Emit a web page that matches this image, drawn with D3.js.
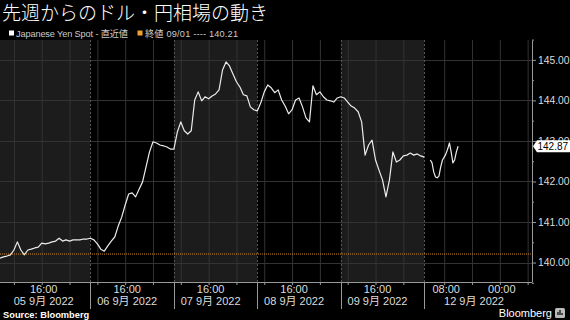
<!DOCTYPE html>
<html>
<head>
<meta charset="utf-8">
<script src="https://cdn.jsdelivr.net/npm/d3@7"></script>
<style>
body { margin: 0; background: #000; }
svg { display: block; }
</style>
</head>
<body>
<div id="chart"></div>
<script>
// USD/JPY spot, Tokyo time, hourly readings per trading session (06:00 - 06:00)
const sep05 = [140.11, 140.14, 140.16, 140.19, 140.31, 140.51, 140.31, 140.19, 140.31, 140.33, 140.36, 140.38, 140.48,
               140.46, 140.48, 140.51, 140.53, 140.60, 140.53, 140.56, 140.53, 140.56, 140.56, 140.56, 140.58, 140.58];
const sep06 = [140.60, 140.56, 140.46, 140.33, 140.28, 140.41, 140.53, 140.63, 140.90, 141.12, 141.42, 141.69,
               141.72, 141.62, 141.81, 141.99, 142.36, 142.73, 142.98, 142.95, 142.90, 142.88, 142.85, 142.80];
const sep07 = [142.80, 143.22, 143.47, 143.25, 143.17, 143.25, 144.01, 144.21, 143.99, 144.09, 144.04, 144.11,
               144.16, 144.26, 144.75, 144.95, 144.85, 144.65, 144.46, 144.33, 144.14, 144.11, 143.84, 143.77];
const sep08 = [143.74, 143.94, 144.21, 144.38, 144.31, 144.19, 144.26, 144.01, 143.86, 143.67, 143.77, 144.01,
               144.06, 143.84, 143.57, 143.47, 144.36, 144.14, 144.21, 144.09, 144.01, 143.99, 143.96, 144.06];
const sep09 = [144.09, 144.06, 143.96, 143.86, 143.81, 143.72, 143.47, 142.65, 142.90, 143.02, 142.53, 142.28,
               142.04, 141.62, 142.04, 142.73, 142.48, 142.53, 142.63, 142.65, 142.70, 142.65, 142.68, 142.63, 142.60];
// 12 Sep, half-hourly from 04:00
const sep12 = [142.53, 142.46, 142.23, 142.11, 142.09, 142.14, 142.36, 142.53, 142.60, 142.68, 142.80, 142.95,
               142.73, 142.46, 142.53, 142.73, 142.87];

const lastClose = 140.21;
const lastPrice = 142.87;

const yTicks = [140, 141, 142, 143, 144, 145];
const timeTicks = ['2022-09-05T16:00', '2022-09-06T16:00', '2022-09-07T16:00', '2022-09-08T16:00',
                   '2022-09-09T16:00', '2022-09-12T08:00', '2022-09-13T00:00'];
const dayLabels = ['05 9月 2022', '06 9月 2022', '07 9月 2022', '08 9月 2022', '09 9月 2022', '12 9月 2022'];
const dayLabelAt = ['2022-09-05T16:00', '2022-09-06T16:00', '2022-09-07T16:00', '2022-09-08T16:00',
                    '2022-09-09T16:00', '2022-09-12T16:00'];

const parse = d3.utcParse('%Y-%m-%dT%H:%M');
const HOUR = 36e5;
const START = parse('2022-09-05T04:00');
const GAP_FROM = parse('2022-09-10T06:00');
const GAP_TO = parse('2022-09-12T02:15');
const END = parse('2022-09-13T09:15');

const sessions = [
    {start: '2022-09-05T04:00', step: 60, values: sep05},
    {start: '2022-09-06T06:00', step: 60, values: sep06},
    {start: '2022-09-07T06:00', step: 60, values: sep07},
    {start: '2022-09-08T06:00', step: 60, values: sep08},
    {start: '2022-09-09T06:00', step: 60, values: sep09},
    {start: '2022-09-12T04:00', step: 30, values: sep12}
];

// weekend is cut out of the time axis
function chartHour(t) {
    let h = (t - START) / HOUR;
    if (t >= GAP_TO) h -= (GAP_TO - GAP_FROM) / HOUR;
    return h;
}

const width = 570, height = 320;
const plot = {left: 0, right: 532, top: 40, bottom: 282};

const x = d3.scaleLinear().domain([0, chartHour(END)]).range([plot.left, plot.right]);
const X = t => x(chartHour(t));
const y = d3.scaleLinear().domain([139.52, 145.49]).range([plot.bottom, plot.top]);

const svg = d3.select('#chart').append('svg')
    .attr('width', width)
    .attr('height', height)
    .style('font-family', '"Liberation Sans", Arial, "Noto Sans CJK JP", sans-serif');

svg.append('rect').attr('width', width).attr('height', height).attr('fill', '#000');

// session shading
const bands = [
    [START, parse('2022-09-06T06:00')],
    [parse('2022-09-07T06:00'), parse('2022-09-08T06:00')],
    [parse('2022-09-09T06:00'), GAP_FROM]
];
svg.selectAll('.band')
    .data(bands)
    .enter().append('rect')
    .attr('x', d => X(d[0]))
    .attr('width', d => X(d[1]) - X(d[0]))
    .attr('y', plot.top)
    .attr('height', plot.bottom - plot.top)
    .attr('fill', '#1c1c1c');

// 8-hour vertical grid
const every8 = d3.utcHour.every(8);
const gridTimes = every8.range(START, GAP_FROM).concat(every8.range(GAP_TO, END));
svg.selectAll('.vgrid')
    .data(gridTimes)
    .enter().append('line')
    .attr('x1', d => X(d) + 0.5).attr('x2', d => X(d) + 0.5)
    .attr('y1', plot.top).attr('y2', plot.bottom)
    .attr('stroke', '#333')
    .attr('stroke-width', 1);

// horizontal grid
svg.selectAll('.hgrid')
    .data(yTicks)
    .enter().append('line')
    .attr('x1', plot.left).attr('x2', plot.right)
    .attr('y1', d => Math.round(y(d)) + 0.5).attr('y2', d => Math.round(y(d)) + 0.5)
    .attr('stroke', '#333');

// session boundaries
const boundaries = ['2022-09-06T06:00', '2022-09-07T06:00', '2022-09-08T06:00', '2022-09-09T06:00', '2022-09-10T06:00'].map(parse);
svg.selectAll('.bound')
    .data(boundaries)
    .enter().append('line')
    .attr('x1', d => Math.round(X(d)) + 0.5).attr('x2', d => Math.round(X(d)) + 0.5)
    .attr('y1', plot.top).attr('y2', plot.bottom)
    .attr('stroke', '#555')
    .attr('stroke-dasharray', '2,2');

// previous close reference
svg.append('line')
    .attr('x1', plot.left).attr('x2', plot.right)
    .attr('y1', y(lastClose)).attr('y2', y(lastClose))
    .attr('stroke', '#d08a28')
    .attr('stroke-width', 1)
    .attr('stroke-dasharray', '1,1');

// price line
const segments = [[], []];
sessions.forEach((s, i) => {
    const t0 = parse(s.start);
    s.values.forEach((v, j) => {
        segments[i < 5 ? 0 : 1].push({t: new Date(+t0 + j * s.step * 6e4), v: v});
    });
});
const line = d3.line()
    .x(d => X(d.t))
    .y(d => y(d.v));
svg.selectAll('.price')
    .data(segments)
    .enter().append('path')
    .attr('d', line)
    .attr('fill', 'none')
    .attr('stroke', '#ececec')
    .attr('stroke-width', 1.2)
    .attr('stroke-linejoin', 'round');

// right axis
const yAxis = svg.append('g')
    .attr('transform', `translate(${plot.right},0)`)
    .call(d3.axisRight(y).tickValues(yTicks).tickFormat(d3.format('.2f')).tickSize(4).tickSizeOuter(0).tickPadding(2));
yAxis.select('.domain').attr('stroke', '#999');
yAxis.selectAll('.tick line').attr('stroke', '#999');
yAxis.selectAll('.tick text')
    .attr('fill', '#ddd')
    .style('font-size', '10.3px')
    .style('font-family', '"Liberation Sans", Arial, sans-serif');
const yMinor = svg.append('g')
    .attr('transform', `translate(${plot.right},0)`)
    .call(d3.axisRight(y).tickValues(d3.range(139.5, 145.6, 0.5).filter(v => v % 1 !== 0)).tickSize(2).tickSizeOuter(0).tickFormat(''));
yMinor.select('.domain').remove();
yMinor.selectAll('.tick line').attr('stroke', '#999');

// bottom axis
svg.append('line')
    .attr('x1', plot.left).attr('x2', plot.right)
    .attr('y1', plot.bottom + 0.5).attr('y2', plot.bottom + 0.5)
    .attr('stroke', '#999');
svg.selectAll('.xtick')
    .data(gridTimes)
    .enter().append('line')
    .attr('x1', d => X(d) + 0.5).attr('x2', d => X(d) + 0.5)
    .attr('y1', plot.bottom).attr('y2', plot.bottom + 3)
    .attr('stroke', '#999');
svg.selectAll('.xsep')
    .data(boundaries)
    .enter().append('line')
    .attr('x1', d => Math.round(X(d)) + 0.5).attr('x2', d => Math.round(X(d)) + 0.5)
    .attr('y1', plot.bottom).attr('y2', 309)
    .attr('stroke', '#999');
svg.selectAll('.xlabel')
    .data(timeTicks)
    .enter().append('text')
    .attr('x', d => X(parse(d)) + 2)
    .attr('y', 293)
    .attr('text-anchor', 'middle')
    .attr('fill', '#ddd')
    .style('font-size', '11px')
    .text(d => d.slice(11));
svg.selectAll('.daylabel')
    .data(dayLabels)
    .enter().append('text')
    .attr('x', (d, i) => X(parse(dayLabelAt[i])) + 2)
    .attr('y', 305)
    .attr('text-anchor', 'middle')
    .attr('fill', '#ddd')
    .style('font-size', '11px')
    .text(d => d);

// last price tag
const ty = y(lastPrice);
svg.append('path')
    .attr('d', `M${plot.right + 1},${ty} L${plot.right + 5},${ty - 6} L570,${ty - 6} L570,${ty + 6} L${plot.right + 5},${ty + 6} Z`)
    .attr('fill', '#fff');
svg.append('text')
    .attr('x', plot.right + 5.5)
    .attr('y', ty + 3.6)
    .attr('fill', '#000')
    .style('font-size', '10px')
    .text(lastPrice.toFixed(2));

// title + legend
svg.append('text')
    .attr('x', 2).attr('y', 20)
    .attr('fill', '#fff')
    .style('font-family', '"Noto Sans CJK JP", sans-serif')
    .style('font-size', '19px')
    .style('font-weight', 300)
    .text('先週からのドル・円相場の動き');

svg.append('rect').attr('x', 9).attr('y', 30.5).attr('width', 5).attr('height', 5).attr('fill', '#fff');
svg.append('text')
    .attr('x', 16).attr('y', 36.5)
    .attr('fill', '#ccc')
    .attr('textLength', 112)
    .attr('lengthAdjust', 'spacing')
    .style('font-size', '9.2px')
    .text('Japanese Yen Spot - 直近値');
svg.append('rect').attr('x', 137.5).attr('y', 30.5).attr('width', 5).attr('height', 5).attr('fill', '#f0a030');
svg.append('text')
    .attr('x', 145).attr('y', 36.5)
    .attr('fill', '#ccc')
    .attr('textLength', 93)
    .attr('lengthAdjust', 'spacing')
    .style('font-size', '9.2px')
    .text('終値 09/01 ---- ' + lastClose.toFixed(2));

// footer
svg.append('text')
    .attr('x', 3).attr('y', 318)
    .attr('fill', '#fff')
    .style('font-size', '9.3px')
    .style('font-weight', 'bold')
    .text('Source: Bloomberg');
svg.append('text')
    .attr('x', 552).attr('y', 317)
    .attr('text-anchor', 'end')
    .attr('fill', '#fff')
    .style('font-size', '11px')
    .text('Bloomberg');
svg.append('rect')
    .attr('x', 555).attr('y', 308).attr('width', 10).attr('height', 10).attr('rx', 1.5)
    .attr('fill', '#bbb');
svg.append('path')
    .attr('d', 'M558,315 L558,312 M560,315 L560,310 M562,315 L562,313')
    .attr('stroke', '#000')
    .attr('stroke-width', 1.2);
</script>
</body>
</html>
